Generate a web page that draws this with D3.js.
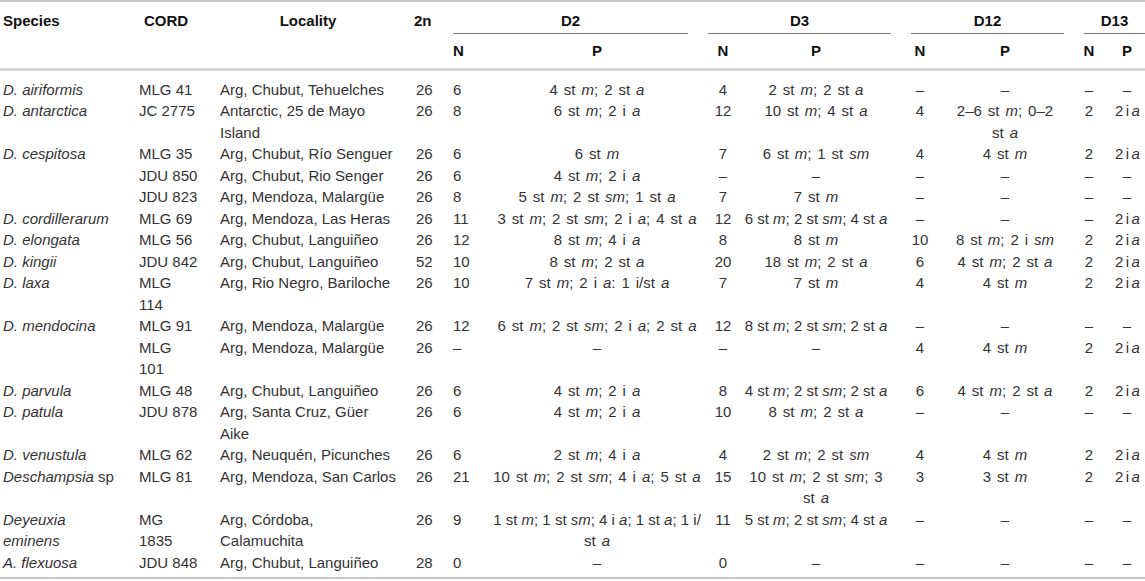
<!DOCTYPE html>
<html>
<head>
<meta charset="utf-8">
<script src="https://cdn.jsdelivr.net/npm/d3@7/dist/d3.min.js"></script>
<style>
  html, body { margin: 0; padding: 0; background: #fff; }
  svg { display: block; }
  text { font-family: "Liberation Sans", Arial, Helvetica, sans-serif; white-space: pre; }
</style>
</head>
<body>
<svg id="chart" width="1145" height="581"></svg>
<script>
// ---------- DATA (read from the reference table) ----------
// *...* marks italic text, \n marks a line break inside a cell
const topHeaders = ["Species", "CORD", "Locality", "2n"];
const groupLabels = ["D2", "D3", "D12", "D13"];
const subLabels = ["N", "P"];

const species = [
  "*D. airiformis*", "*D. antarctica*", "*D. cespitosa*", "", "",
  "*D. cordillerarum*", "*D. elongata*", "*D. kingii*", "*D. laxa*",
  "*D. mendocina*", "", "*D. parvula*", "*D. patula*", "*D. venustula*",
  "*Deschampsia* sp", "*Deyeuxia*\n*eminens*", "*A. flexuosa*"
];
const cord = [
  "MLG 41", "JC 2775", "MLG 35", "JDU 850", "JDU 823", "MLG 69", "MLG 56",
  "JDU 842", "MLG\n114", "MLG 91", "MLG\n101", "MLG 48", "JDU 878", "MLG 62",
  "MLG 81", "MG\n1835", "JDU 848"
];
const locality = [
  "Arg, Chubut, Tehuelches", "Antarctic, 25 de Mayo\nIsland",
  "Arg, Chubut, Río Senguer", "Arg, Chubut, Rio Senger", "Arg, Mendoza, Malargüe",
  "Arg, Mendoza, Las Heras", "Arg, Chubut, Languiñeo", "Arg, Chubut, Languiñeo",
  "Arg, Rio Negro, Bariloche", "Arg, Mendoza, Malargüe", "Arg, Mendoza, Malargüe",
  "Arg, Chubut, Languiñeo", "Arg, Santa Cruz, Güer\nAike", "Arg, Neuquén, Picunches",
  "Arg, Mendoza, San Carlos", "Arg, Córdoba,\nCalamuchita", "Arg, Chubut, Languiñeo"
];
const twoN = ["26","26","26","26","26","26","26","52","26","26","26","26","26","26","26","26","28"];

const d2N = ["6","8","6","6","8","11","12","10","10","12","–","6","6","6","21","9","0"];
const d2P = [
  "4 st *m*; 2 st *a*", "6 st *m*; 2 i *a*", "6 st *m*", "4 st *m*; 2 i *a*",
  "5 st *m*; 2 st *sm*; 1 st *a*", "3 st *m*; 2 st *sm*; 2 i *a*; 4 st *a*",
  "8 st *m*; 4 i *a*", "8 st *m*; 2 st *a*", "7 st *m*; 2 i *a*: 1 i/st *a*",
  "6 st *m*; 2 st *sm*; 2 i *a*; 2 st *a*", "–", "4 st *m*; 2 i *a*",
  "4 st *m*; 2 i *a*", "2 st *m*; 4 i *a*", "10 st *m*; 2 st *sm*; 4 i *a*; 5 st *a*",
  "1 st *m*; 1 st *sm*; 4 i *a*; 1 st *a*; 1 i/\nst *a*", "–"
];
const d3N = ["4","12","7","–","7","12","8","20","7","12","–","8","10","4","15","11","0"];
const d3P = [
  "2 st *m*; 2 st *a*", "10 st *m*; 4 st *a*", "6 st *m*; 1 st *sm*", "–", "7 st *m*",
  "6 st *m*; 2 st *sm*; 4 st *a*", "8 st *m*", "18 st *m*; 2 st *a*", "7 st *m*",
  "8 st *m*; 2 st *sm*; 2 st *a*", "–", "4 st *m*; 2 st *sm*; 2 st *a*",
  "8 st *m*; 2 st *a*", "2 st *m*; 2 st *sm*", "10 st *m*; 2 st *sm*; 3\nst *a*",
  "5 st *m*; 2 st *sm*; 4 st *a*", "–"
];
const d12N = ["–","4","4","–","–","–","10","6","4","–","4","6","–","4","3","–","–"];
const d12P = [
  "–", "2–6 st *m*; 0–2\nst *a*", "4 st *m*", "–", "–", "–", "8 st *m*; 2 i *sm*",
  "4 st *m*; 2 st *a*", "4 st *m*", "–", "4 st *m*", "4 st *m*; 2 st *a*", "–",
  "4 st *m*", "3 st *m*", "–", "–"
];
const d13N = ["–","2","2","–","–","–","2","2","2","–","2","2","–","2","2","–","–"];
const d13P = [
  "–", "2 i *a*", "2 i *a*", "–", "–", "2 i *a*", "2 i *a*", "2 i *a*", "2 i *a*",
  "–", "2 i *a*", "2 i *a*", "–", "2 i *a*", "2 i *a*", "–", "–"
];

// ---------- LAYOUT ----------
const W = 1145, H = 581;
const svg = d3.select("#chart");

// maxW: text wider than this is tightened to fit (like the reference)
const columns = [
  { key: "species",  values: species,  anchor: "start"  },
  { key: "cord",     values: cord,     anchor: "start"  },
  { key: "locality", values: locality, anchor: "start"  },
  { key: "twoN",     values: twoN,     anchor: "start"  },
  { key: "d2N",      values: d2N,      anchor: "start"  },
  { key: "d2P",      values: d2P,      anchor: "middle", ws: 1.8, maxW: 214 },
  { key: "d3N",      values: d3N,      anchor: "middle" },
  { key: "d3P",      values: d3P,      anchor: "middle", ws: 1.8, maxW: 146 },
  { key: "d12N",     values: d12N,     anchor: "middle" },
  { key: "d12P",     values: d12P,     anchor: "middle", ws: 1.8, maxW: 112 },
  { key: "d13N",     values: d13N,     anchor: "middle" },
  { key: "d13P",     values: d13P,     anchor: "middle", ws: 0, maxW: 25 }
];

const xCol = d3.scaleOrdinal()
  .domain(columns.map(c => c.key))
  .range([3, 139, 220, 416, 453, 597, 723, 816, 920, 1005, 1089, 1127]);

// header positions
const xTop = d3.scaleOrdinal().domain(topHeaders).range([3, 166, 308, 414]);
const topAnchor = d3.scaleOrdinal().domain(topHeaders).range(["start", "middle", "middle", "start"]);
const groupSpan = d3.scaleOrdinal().domain(groupLabels)
  .range([[453, 688], [708, 891], [911, 1064], [1084, 1145]]);
const subX = {
  D2: [453, 597], D3: [723, 816], D12: [920, 1005], D13: [1089, 1127]
};

// rows -> line indices
const nRows = species.length;
const rowLines = d3.range(nRows).map(i =>
  d3.max(columns, c => c.values[i].split("\n").length));
const rowStart = [];
rowLines.reduce((acc, n, i) => { rowStart[i] = acc; return acc + n; }, 0);
const totalLines = d3.sum(rowLines);

const yLine = d3.scaleLinear().domain([0, totalLines - 1]).range([89.3, 562.3]);
const baseOff = 5.4;

// ---------- RULES ----------
const lineColor = "#c8c8c8";
svg.append("line").attr("x1", 0).attr("x2", W).attr("y1", 1).attr("y2", 1)
  .attr("stroke", lineColor).attr("stroke-width", 2);
svg.append("line").attr("x1", 0).attr("x2", W).attr("y1", 69.5).attr("y2", 69.5)
  .attr("stroke", lineColor).attr("stroke-width", 2);
svg.append("line").attr("x1", 0).attr("x2", W).attr("y1", 578).attr("y2", 578)
  .attr("stroke", lineColor).attr("stroke-width", 2);

groupLabels.forEach(g => {
  const [a, b] = groupSpan(g);
  svg.append("line").attr("x1", a).attr("x2", b).attr("y1", 33.5).attr("y2", 33.5)
    .attr("stroke", "#7a7a7a").attr("stroke-width", 1.2);
});

// ---------- TEXT ----------
function rich(sel, str, x, y, anchor, opts = {}) {
  const t = sel.append("text")
    .attr("x", x).attr("y", y)
    .attr("text-anchor", anchor)
    .attr("font-size", opts.size || 15)
    .attr("font-weight", opts.weight || "normal")
    .attr("fill", opts.fill || "#333");
  if (opts.ws) t.style("word-spacing", opts.ws + "px");
  str.split("*").forEach((p, i) => {
    if (!p) return;
    t.append("tspan").text(p).attr("font-style", i % 2 ? "italic" : "normal");
  });
  if (opts.maxW) {
    let w = t.node().getComputedTextLength();
    if (w > opts.maxW) {
      t.style("word-spacing", null);
      w = t.node().getComputedTextLength();
      if (w > opts.maxW) {
        const n = str.replace(/\*/g, "").length;
        t.style("letter-spacing", (-(w - opts.maxW) / Math.max(1, n - 1)).toFixed(3) + "px");
      }
    }
  }
  return t;
}

const hdr = svg.append("g");
const hOpts = { weight: "bold", fill: "#111", size: 15 };
topHeaders.forEach(h => rich(hdr, h, xTop(h), 20.5 + baseOff, topAnchor(h), hOpts));
groupLabels.forEach(g => {
  const [a, b] = groupSpan(g);
  rich(hdr, g, (a + b) / 2, 20.5 + baseOff, "middle", hOpts);
  subLabels.forEach((s, j) => {
    rich(hdr, s, subX[g][j], 50.5 + baseOff, (g === "D2" && j === 0) ? "start" : "middle", hOpts);
  });
});

const body = svg.append("g");
columns.forEach(c => {
  c.values.forEach((v, i) => {
    v.split("\n").forEach((line, j) => {
      if (!line) return;
      rich(body, line, xCol(c.key), yLine(rowStart[i] + j) + baseOff, c.anchor,
        { ws: c.ws || 0, maxW: c.maxW });
    });
  });
});
</script>
</body>
</html>
